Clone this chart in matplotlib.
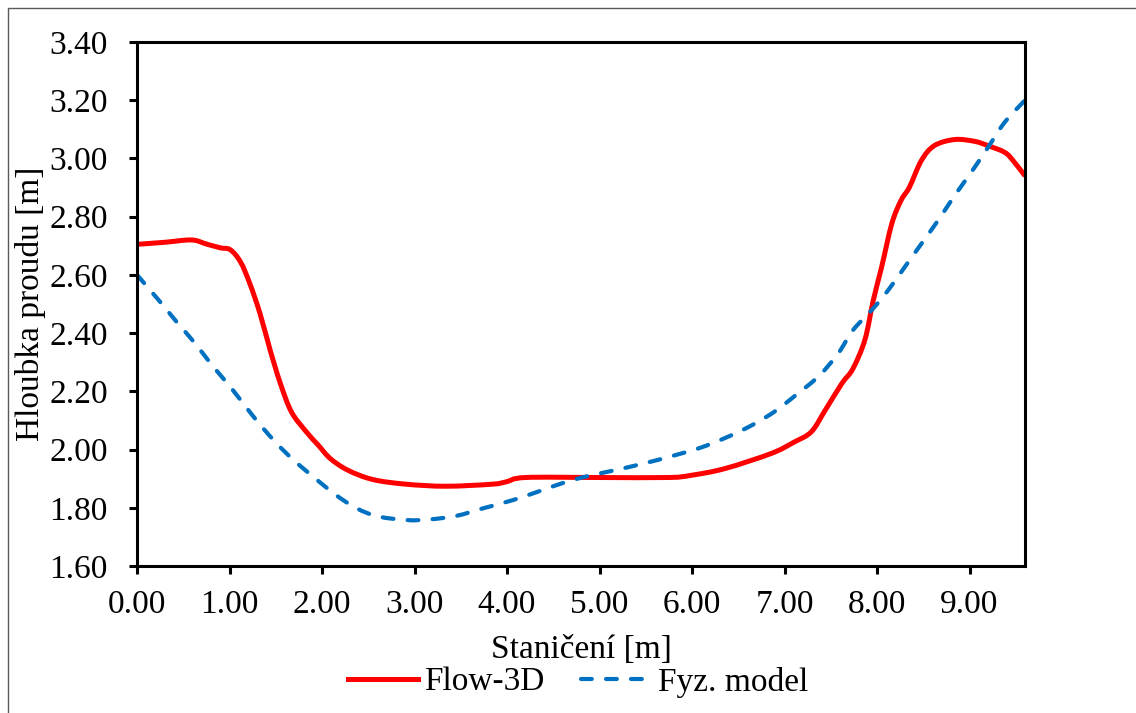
import matplotlib
matplotlib.use("Agg")
import matplotlib.pyplot as plt
import numpy as np
from matplotlib.patches import Rectangle, PathPatch
from matplotlib.path import Path
from matplotlib.lines import Line2D

plt.rcParams["font.family"] = ["Liberation Serif", "DejaVu Serif"]

# Flow-3D (red, solid)
flow_x = [0.00, 0.30, 0.59, 0.75, 0.90, 1.01, 1.12, 1.22, 1.33, 1.44, 1.55, 1.67,
          1.83, 1.96, 2.09, 2.28, 2.55, 2.91, 3.34, 3.84, 3.99, 4.20, 5.00, 5.75,
          6.00, 6.36, 6.86, 7.10, 7.29, 7.44, 7.62, 7.74, 7.87, 7.96, 8.05, 8.16,
          8.26, 8.35, 8.48, 8.62, 8.84, 9.05, 9.20, 9.38, 9.47, 9.60]
flow_y = [2.705, 2.712, 2.720, 2.706, 2.693, 2.686, 2.644, 2.570, 2.467, 2.341, 2.227, 2.129,
          2.061, 2.015, 1.969, 1.929, 1.897, 1.881, 1.874, 1.881, 1.889, 1.904, 1.904, 1.904,
          1.912, 1.935, 1.987, 2.025, 2.061, 2.135, 2.227, 2.278, 2.378, 2.513, 2.627, 2.776,
          2.856, 2.901, 2.993, 3.044, 3.065, 3.059, 3.044, 3.021, 2.993, 2.940]

# Fyz. model (blue, dashed)
fyz_x = [0.00, 0.235, 0.43, 0.63, 0.81, 1.01, 1.19, 1.38, 1.58, 1.82, 2.23, 2.55,
         2.91, 3.16, 3.45, 3.74, 4.06, 4.35, 4.64, 4.89, 5.21, 5.50, 5.73, 6.07,
         6.36, 6.65, 6.90, 7.13, 7.37, 7.58, 7.74, 7.94, 8.12, 8.30, 8.48, 8.66,
         8.84, 9.02, 9.20, 9.38, 9.60]
fyz_y = [2.600, 2.513, 2.438, 2.364, 2.290, 2.215, 2.141, 2.067, 1.998, 1.929, 1.826, 1.775,
         1.758, 1.760, 1.772, 1.798, 1.826, 1.857, 1.889, 1.910, 1.932, 1.954, 1.973, 2.004,
         2.040, 2.084, 2.132, 2.189, 2.252, 2.330, 2.410, 2.478, 2.547, 2.627, 2.707, 2.787,
         2.873, 2.953, 3.038, 3.124, 3.200]

x_ticks = [0, 1, 2, 3, 4, 5, 6, 7, 8, 9]
y_ticks = [1.6, 1.8, 2.0, 2.2, 2.4, 2.6, 2.8, 3.0, 3.2, 3.4]


def smooth_path(xs, ys):
    # Excel-style smoothed line: cubic Bezier segments through the data points
    p = np.column_stack([xs, ys])
    n = len(p)
    verts = [p[0]]
    codes = [Path.MOVETO]
    for i in range(n - 1):
        prev = p[i - 1] if i > 0 else p[i]
        nxt = p[i + 2] if i + 2 < n else p[i + 1]
        c1 = p[i] + (p[i + 1] - prev) / 6
        c2 = p[i + 1] - (nxt - p[i]) / 6
        verts += [c1, c2, p[i + 1]]
        codes += [Path.CURVE4] * 3
    return Path(verts, codes)


W, H = 1136, 713
fig = plt.figure(figsize=(W / 100, H / 100), dpi=100)
ax = fig.add_axes([137 / W, 1 - 566 / H, (1025 - 137) / W, (566 - 42) / H])

red = PathPatch(smooth_path(flow_x, flow_y), fill=False, edgecolor="#FF0000", lw=3.6)
red.set_capstyle("butt")
ax.add_patch(red)
blue = PathPatch(smooth_path(fyz_x, fyz_y), fill=False, edgecolor="#0070C0", lw=3.0,
                 linestyle=(0, (2.6, 3.4)))
blue.set_capstyle("round")
ax.add_patch(blue)

ax.set_xlim(0, 9.6)
ax.set_ylim(1.6, 3.4)
ax.set_xticks(x_ticks)
ax.set_yticks(y_ticks)
ax.set_xticklabels([f"{v:.2f}" for v in x_ticks])
ax.set_yticklabels([f"{v:.2f}" for v in y_ticks])

for s in ax.spines.values():
    s.set_linewidth(2.2)
    s.set_color("black")
ax.tick_params(axis="both", direction="out", length=6, width=2.2, labelsize=24, colors="black")
ax.tick_params(axis="x", pad=11)
ax.tick_params(axis="y", pad=15)

fig.text(581 / W, 1 - 650 / H, "Staničení [m]", ha="center", va="center", fontsize=24)
fig.text(31 / W, 1 - 304 / H, "Hloubka proudu [m]", ha="center", va="center",
         rotation=90, fontsize=24)

handles = [Line2D([], [], color="#FF0000", lw=3.6),
           Line2D([], [], color="#0070C0", lw=3.0, linestyle=(0, (2.6, 3.4)),
                  dash_capstyle="round")]
fig.legend(handles, ["Flow-3D", "Fyz. model"], loc="center",
           bbox_to_anchor=(578 / W, 1 - 682 / H), ncol=2, frameon=False,
           fontsize=24, handlelength=2.1, handletextpad=0.2, columnspacing=1.1,
           borderaxespad=0, borderpad=0)

# outer chart-area border (only left and top edges visible)
fig.patches.append(Rectangle((8 / W, -0.5), 2, 1.5 - 8 / H, transform=fig.transFigure,
                             fill=False, edgecolor="#595959", lw=1.0))

fig.savefig("out.png", dpi=100)
